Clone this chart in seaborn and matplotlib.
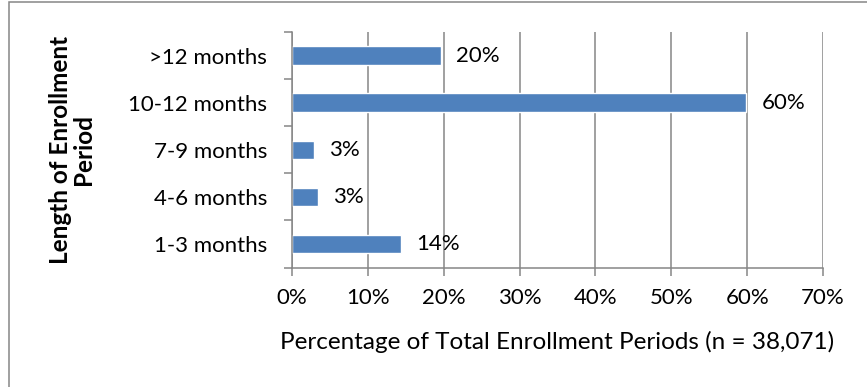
import matplotlib
matplotlib.use("Agg")
import matplotlib.pyplot as plt
from matplotlib.patches import Rectangle
from matplotlib.ticker import FixedLocator, PercentFormatter
import seaborn as sns
import pandas as pd

# Enrollment period length categories (top to bottom) and their share of all periods (%)
categories = [">12 months", "10-12 months", "7-9 months", "4-6 months", "1-3 months"]
shares = [19.6, 59.9, 2.85, 3.4, 14.4]
x_ticks = [0, 10, 20, 30, 40, 50, 60, 70]

sns.set_theme(style="white")
plt.rcParams["font.family"] = ["Lato", "DejaVu Sans"]

GRAY = "#868686"
BLUE = "#4F81BD"
FS = 16
FS_TITLE = 17.5

df = pd.DataFrame({"period": categories, "share": shares})

fig = plt.figure(figsize=(8.67, 3.87), dpi=100)
fig.patch.set_facecolor("white")
ax = fig.add_axes([292 / 867, 1 - 267.5 / 387, (823 - 292) / 867, (267.5 - 32) / 387])

sns.barplot(data=df, x="share", y="period", order=categories, orient="h",
            color=BLUE, saturation=1, width=0.39, ax=ax, zorder=3)

ax.set_xlim(0, 70)
ax.set_ylim(len(categories) - 0.5, -0.5)
ax.xaxis.set_major_locator(FixedLocator(x_ticks))
ax.xaxis.set_major_formatter(PercentFormatter(decimals=0))

# Vertical gridlines only
ax.grid(axis="x", color=GRAY, linewidth=1.1, zorder=0)
ax.grid(axis="y", visible=False)

for side in ["top", "right"]:
    ax.spines[side].set_visible(False)
for side in ["left", "bottom"]:
    ax.spines[side].set_color(GRAY)
    ax.spines[side].set_linewidth(1.1)
    ax.spines[side].set_zorder(4)

# Category ticks sit on the boundaries between bars
ax.yaxis.set_minor_locator(FixedLocator([i - 0.5 for i in range(len(categories) + 1)]))
ax.tick_params(axis="y", which="major", length=0, pad=18, labelsize=FS, labelcolor="black")
ax.tick_params(axis="y", which="minor", left=True, length=6, width=1.1, color=GRAY)
ax.tick_params(axis="x", which="major", bottom=True, length=5.5, width=1.1, color=GRAY,
               pad=9, labelsize=FS, labelcolor="black")

ax.set_xlabel("Percentage of Total Enrollment Periods (n = 38,071)", fontsize=FS_TITLE,
              color="black", labelpad=17)
ax.set_ylabel("Length of Enrollment\nPeriod", fontsize=FS_TITLE, fontweight="bold",
              color="black", labelpad=24, linespacing=1.0)

# Value labels to the right of each bar
for i, v in enumerate(shares):
    ax.annotate(f"{v:.0f}%", xy=(v, i), xytext=(11, 0), textcoords="offset points",
                va="center", ha="left", fontsize=FS, color="black")

# Outer chart frame
fig.patches.append(Rectangle((9 / 867, -0.2), 1.2, 1.2 - 2 / 387, transform=fig.transFigure,
                             fill=False, edgecolor=GRAY, linewidth=1.1))

fig.savefig("out.png", dpi=100, facecolor="white")
